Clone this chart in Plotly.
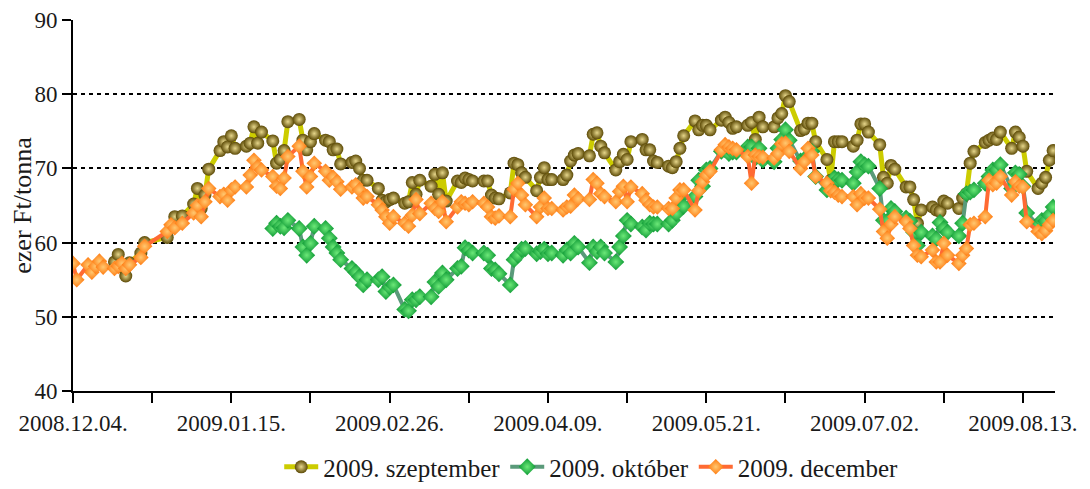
import pandas as pd
import plotly.graph_objects as go

# Trading days shown on the chart (business days 2008-12-04 .. 2009-08-21)
dates = pd.bdate_range("2008-12-04", "2009-08-21")

# 2009. szeptember (ezer Ft/tonna), one row per week (Mon..Fri), first row Thu-Fri
szeptember = [
    None, None,
    None, None, None, None, None,
    57.4, 58.4, 56.7, 55.5, 57.3,
    58.6, 60.0, None, None, None,
    60.7, 62.0, 63.5, None, 63.6,
    65.2, 67.3, 64.6, 66.4, 69.9,
    72.4, 73.6, 72.9, 74.4, 72.7,
    73.0, 73.4, 75.6, 73.4, 74.9,
    73.7, 70.7, 71.2, 72.4, 76.3,
    76.6, 73.8, 72.5, 73.6, 74.7,
    73.8, 73.6, 72.5, 72.6, 70.6,
    70.8, 71.0, 70.0, 68.4, 68.4,
    67.3, 65.7, 65.5, 65.8, 66.0,
    65.3, 65.5, 68.1, 66.5, 68.4,
    67.6, 69.2, 66.5, 69.4, 65.6,
    68.3, 68.1, 68.7, 68.5, 68.3,
    68.3, 68.3, 66.4, 66.0, 65.9,
    66.7, 70.7, 70.5, 69.4, 68.8,
    67.0, 68.8, 70.1, 68.5, 68.5,
    68.5, 69.1, 71.0, 71.8, 72.0,
    71.7, 74.6, 74.8, 73.0, 72.1,
    69.8, 70.9, 71.9, 71.2, 73.6,
    73.9, 72.5, 72.5, 71.0, 70.8,
    70.3, 70.1, 70.9, 72.7, 74.4,
    76.4, 75.2, 75.8, 75.8, 75.2,
    76.5, 76.9, 76.2, 75.4, 75.6,
    75.8, 76.2, 73.9, 76.9, 75.6,
    75.6, 76.8, 77.4, 79.8, 79.0,
    75.1, 75.3, 76.1, 76.1, 73.6,
    71.2, 68.4, 73.6, 73.6, 73.6,
    73.0, 73.8, 76.0, 76.0, 74.9,
    73.2, 68.8, 68.0, 70.4, 69.9,
    67.5, 67.5, 65.8, 62.6, 64.4,
    64.8, 64.4, 64.2, 65.6, 65.3,
    64.6, 66.0, 66.6, 70.7, 72.3,
    73.5, 73.8, 74.1, 73.9, 74.9,
    72.7, 74.9, 74.2, 73.0, 69.6,
    67.3, 68.0, 68.8, 71.1, 72.4,
]

# 2009. október
oktober = [
    None, None,
    None, None, None, None, None,
    None, None, None, None, None,
    None, None, None, None, None,
    None, None, None, None, None,
    None, None, None, None, None,
    None, None, None, None, None,
    None, None, None, None, None,
    61.9, 62.6, 62.2, 62.0, 63.0,
    61.9, 59.4, 58.3, 59.9, 62.2,
    61.9, 60.6, 59.4, 58.6, 57.7,
    56.5, 56.0, 55.4, 54.3, 55.0,
    55.0, 55.4, 53.4, 54.0, 54.3,
    51.0, 50.8, 52.3, 52.3, 52.7,
    52.7, 54.7, 54.1, 55.9, 55.0,
    56.5, 56.8, 59.3, 59.0, 58.6,
    58.6, 58.3, 56.5, 56.3, 55.8,
    54.3, 57.7, 58.3, 59.1, 59.2,
    58.5, 58.8, 59.1, 58.5, 58.6,
    58.3, 59.0, 58.6, 59.9, 59.4,
    57.3, 59.4, 58.8, 59.4, 58.6,
    57.4, 59.4, 60.9, 63.0, 62.5,
    62.1, 61.7, 62.6, 62.5, 62.5,
    62.5, 63.0, 63.9, 66.0, 64.9,
    66.2, 68.4, 67.6, 69.8, 70.0,
    72.3, 72.5, 72.0, 72.2, 72.2,
    72.9, 72.9, 71.4, 72.7, 71.1,
    70.9, 72.7, 73.9, 75.2, 73.8,
    71.0, 71.2, 71.7, 72.3, 68.9,
    67.1, 67.5, 68.7, 68.5, 68.4,
    68.0, 69.5, 70.9, 70.5, 70.3,
    67.3, 63.0, 62.9, 64.6, 64.2,
    63.3, 62.9, 61.4, 59.6, 61.4,
    60.9, 60.5, 62.7, 61.9, 61.4,
    60.9, 62.6, 66.6, 66.8, 67.1,
    68.0, 68.9, 69.8, 69.8, 70.5,
    67.3, 69.4, 69.2, 67.6, 64.0,
    62.3, 63.0, 62.9, 63.7, 64.8,
]

# 2009. december
december = [
    57.2, 55.0,
    57.0, 56.0, 56.8, 57.5, 56.7,
    56.5, 56.8, 57.2, 56.5, 57.0,
    58.0, 59.5, None, None, None,
    61.5, 62.4, 62.0, None, 62.6,
    64.0, 65.0, 63.5, 65.5, 67.3,
    66.2, 66.5, 65.7, 67.1, 67.5,
    67.5, 69.1, 71.1, 70.2, 69.8,
    68.9, 67.6, 67.3, 68.7, 71.6,
    73.0, 69.6, 67.5, 68.9, 70.7,
    69.6, 68.4, 68.8, 68.2, 67.2,
    67.5, 67.8, 67.1, 66.0, 66.2,
    65.1, 64.4, 63.5, 62.6, 63.5,
    62.6, 62.2, 63.7, 65.8, 63.9,
    65.3, 64.6, 64.2, 65.5, 62.8,
    64.8, 65.5, 65.3, 65.1, 65.5,
    65.3, 64.8, 63.5, 63.3, 63.6,
    63.5, 67.2, 68.0, 66.4, 65.1,
    63.5, 64.8, 66.0, 64.6, 64.6,
    64.4, 64.8, 64.9, 66.4, 65.9,
    65.8, 68.5, 68.0, 66.6, 66.2,
    65.5, 66.9, 67.6, 65.5, 67.5,
    66.6, 65.7, 65.1, 64.8, 64.8,
    64.6, 64.6, 66.0, 67.1, 67.1,
    64.4, 67.0, 68.2, 69.1, 69.6,
    72.5, 73.2, 72.9, 72.7, 72.5,
    71.6, 68.0, 71.8, 71.6, 71.5,
    71.4, 72.0, 73.3, 73.4, 72.3,
    70.0, 70.9, 72.7, 71.8, 68.9,
    68.0, 67.0, 66.8, 66.4, 66.2,
    66.2, 65.1, 66.6, 66.0, 66.0,
    64.5, 61.5, 60.6, 62.5, 63.5,
    62.8, 61.9, 59.6, 58.3, 58.1,
    59.0, 57.4, 57.4, 59.9, 58.3,
    57.2, 58.3, 59.2, 62.4, 62.6,
    63.5, 68.4, 67.8, 68.0, 68.9,
    66.4, 68.2, 67.6, 67.5, 62.8,
    61.5, 61.2, 61.6, 62.4, 63.0,
]

series_names = ["2009. szeptember", "2009. október", "2009. december"]

# x-axis ticks every 21 days, labelled every 42 days
tick_dates = pd.date_range("2008-12-04", "2009-08-13", freq="21D")
tick_labels = ["2008.12.04.", "", "2009.01.15.", "", "2009.02.26.", "",
               "2009.04.09.", "", "2009.05.21.", "", "2009.07.02.", "",
               "2009.08.13."]

y_ticks = [40, 50, 60, 70, 80, 90]

FONT = "Liberation Serif"
TXT = "#1a1a1a"

fig = go.Figure()

fig.add_trace(go.Scatter(
    x=dates, y=szeptember, name=series_names[0], mode="lines+markers",
    connectgaps=True,
    line=dict(color="#CCCC00", width=5),
    marker=dict(symbol="circle", size=13, color="#5C4A06",
                gradient=dict(type="radial", color="#E6D68A"),
                line=dict(width=0)),
))
fig.add_trace(go.Scatter(
    x=dates, y=oktober, name=series_names[1], mode="lines+markers",
    connectgaps=True,
    line=dict(color="#5A9A7A", width=4),
    marker=dict(symbol="diamond", size=13, color="#0E9A35",
                gradient=dict(type="radial", color="#6CE878"),
                line=dict(width=0)),
))
fig.add_trace(go.Scatter(
    x=dates, y=december, name=series_names[2], mode="lines+markers",
    connectgaps=True,
    line=dict(color="#FF6A33", width=4),
    marker=dict(symbol="diamond", size=12, color="#FF7A10",
                gradient=dict(type="radial", color="#FFC870"),
                line=dict(width=0)),
))

# The page adds an 8px body margin, so the figure is sized/offset to compensate.
fig.update_layout(
    width=1082, height=481,
    margin=dict(l=65, r=35, t=12, b=98, autoexpand=False),
    paper_bgcolor="white", plot_bgcolor="white",
    font=dict(family=FONT, size=23, color=TXT),
    showlegend=True,
    legend=dict(orientation="h", x=0.21, xanchor="left", y=-0.205,
                yanchor="middle", font=dict(family=FONT, size=25, color=TXT),
                itemwidth=34, tracegroupgap=0, bgcolor="rgba(0,0,0,0)"),
    xaxis=dict(
        type="date",
        range=["2008-12-04", "2009-08-21 12:00"],
        tickvals=list(tick_dates), ticktext=tick_labels,
        ticks="outside", ticklen=10, tickwidth=2, tickcolor="black",
        showline=True, linecolor="black", linewidth=2,
        showgrid=False, zeroline=False, automargin=False,
        tickfont=dict(family=FONT, size=23, color=TXT),
    ),
    yaxis=dict(
        range=[40, 90], tickvals=y_ticks,
        ticks="outside", ticklen=9, tickwidth=2, tickcolor="black",
        showline=True, linecolor="black", linewidth=2,
        showgrid=True, gridcolor="black", gridwidth=2, griddash="4px,4px",
        zeroline=False, automargin=False,
        tickfont=dict(family=FONT, size=23, color=TXT),
        title=dict(text="ezer Ft/tonna", font=dict(family=FONT, size=26, color=TXT),
                   standoff=6),
    ),
)

fig.write_html("out.html")
